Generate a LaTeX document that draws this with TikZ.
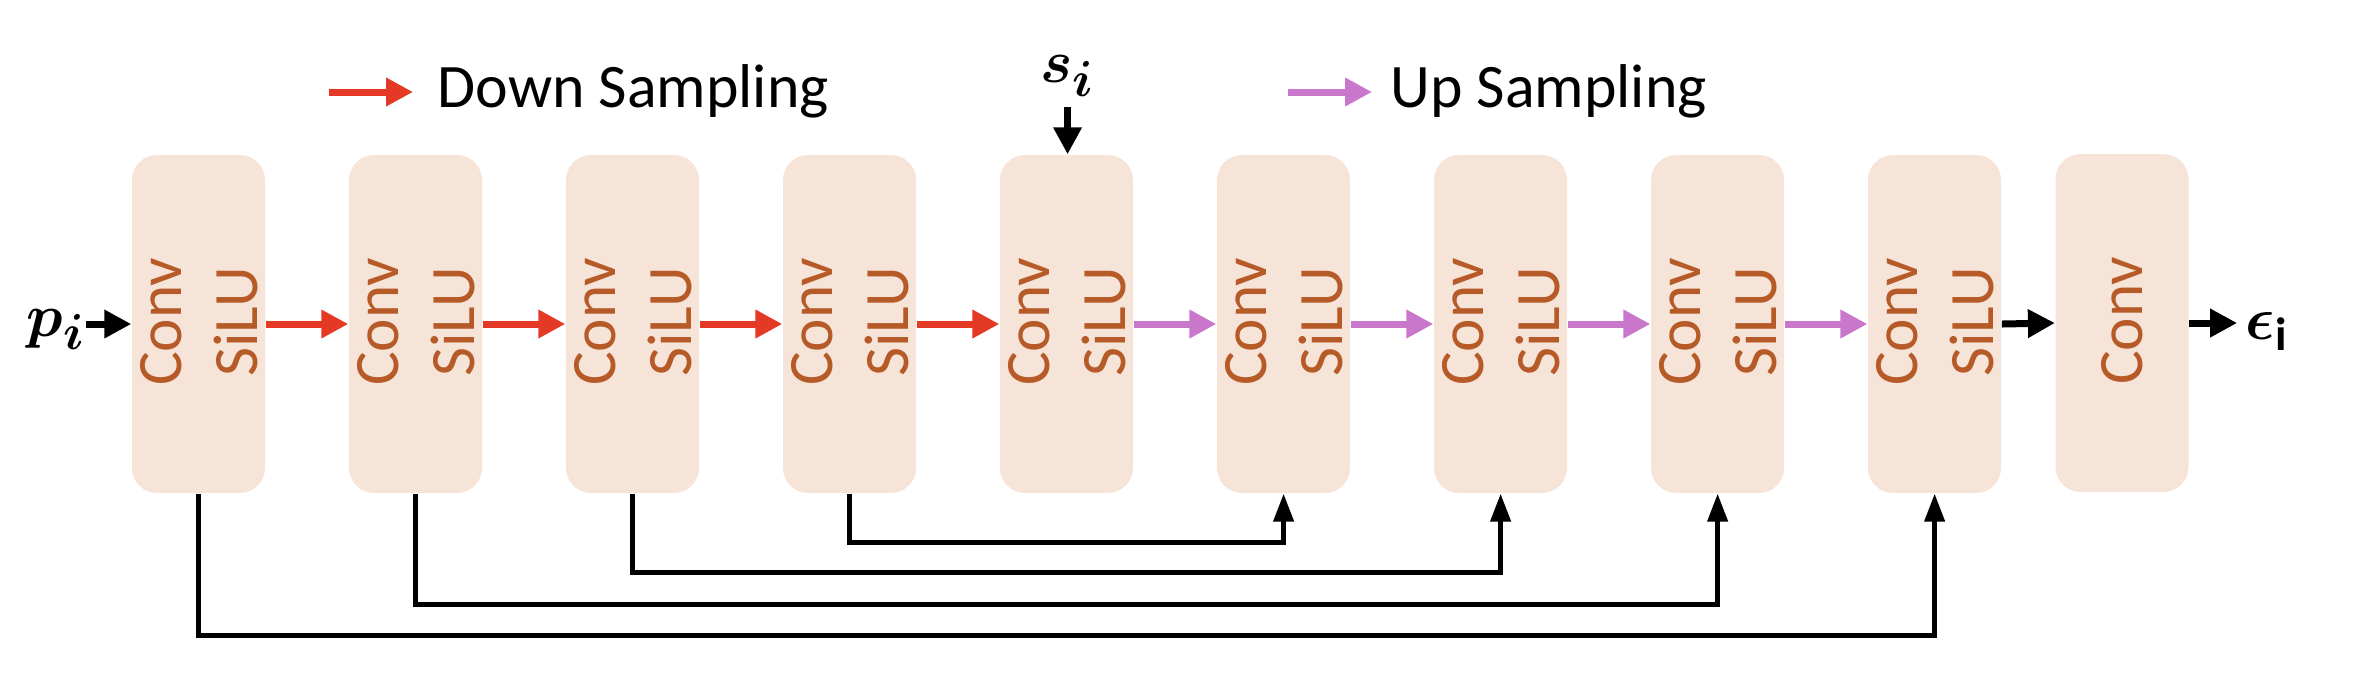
\documentclass[tikz,border=0pt]{standalone}
\usepackage{amsmath}
\usepackage{amssymb}
\usepackage{fontspec}
\setmainfont{Carlito}
\usepackage{xcolor}
\usepackage{tikz}
\usetikzlibrary{arrows.meta}

\definecolor{boxfill}{HTML}{F6E4D9}
\definecolor{convtext}{HTML}{B65A27}
\definecolor{downred}{HTML}{E43A25}
\definecolor{uppink}{HTML}{C977CA}

\begin{document}
\begin{tikzpicture}[scale=0.1]
\tikzstyle{every node}+=[inner sep=0pt]
\tikzstyle{block}=[fill=boxfill, rounded corners=0.25cm, minimum width=1.33cm, minimum height=3.38cm]
\tikzstyle{convlbl}=[text=convtext, rotate=90, font=\fontsize{18}{20}\selectfont]
\tikzstyle{legendtxt}=[font=\fontsize{17.6}{20}\selectfont]
\tikzstyle{mathlbl}=[font=\fontsize{19}{22}\selectfont]
\tikzstyle{flow}=[line width=0.07cm, -{Triangle[length=0.27cm,width=0.27cm]}]
\tikzstyle{skip}=[line width=0.045cm, -{Triangle[length=0.28cm,width=0.2cm]}]
\useasboundingbox (0,0) rectangle (237.6,-67.8);
% legend
\coordinate (dnstart) at (32.9,-9.2);
\node[legendtxt, anchor=base west] (dntxt) at (43.7,-10.8) {Down Sampling};
\draw [flow, downred, shorten >=0.24cm] (dnstart) -- (dnstart -| dntxt.west);
\coordinate (upstart) at (128.8,-9.2);
\node[legendtxt, anchor=base west] (uptxt) at (139,-10.8) {Up Sampling};
\draw [flow, uppink, shorten >=0.18cm] (upstart) -- (upstart -| uptxt.west);
% blocks
\node[block] (b1) at (19.85,-32.4) {};
\node[xshift=-0.37cm, yshift=0.02cm, convlbl] (c1) at (b1.center) {Conv};
\node[xshift=0.37cm, yshift=0.02cm, convlbl] (a1) at (b1.center) {SiLU};
\node[block] (b2) at (41.55,-32.4) {};
\node[xshift=-0.37cm, yshift=0.02cm, convlbl] (c2) at (b2.center) {Conv};
\node[xshift=0.37cm, yshift=0.02cm, convlbl] (a2) at (b2.center) {SiLU};
\node[block] (b3) at (63.25,-32.4) {};
\node[xshift=-0.37cm, yshift=0.02cm, convlbl] (c3) at (b3.center) {Conv};
\node[xshift=0.37cm, yshift=0.02cm, convlbl] (a3) at (b3.center) {SiLU};
\node[block] (b4) at (84.95,-32.4) {};
\node[xshift=-0.37cm, yshift=0.02cm, convlbl] (c4) at (b4.center) {Conv};
\node[xshift=0.37cm, yshift=0.02cm, convlbl] (a4) at (b4.center) {SiLU};
\node[block] (b5) at (106.65,-32.4) {};
\node[xshift=-0.37cm, yshift=0.02cm, convlbl] (c5) at (b5.center) {Conv};
\node[xshift=0.37cm, yshift=0.02cm, convlbl] (a5) at (b5.center) {SiLU};
\node[block] (b6) at (128.35,-32.4) {};
\node[xshift=-0.37cm, yshift=0.02cm, convlbl] (c6) at (b6.center) {Conv};
\node[xshift=0.37cm, yshift=0.02cm, convlbl] (a6) at (b6.center) {SiLU};
\node[block] (b7) at (150.05,-32.4) {};
\node[xshift=-0.37cm, yshift=0.02cm, convlbl] (c7) at (b7.center) {Conv};
\node[xshift=0.37cm, yshift=0.02cm, convlbl] (a7) at (b7.center) {SiLU};
\node[block] (b8) at (171.75,-32.4) {};
\node[xshift=-0.37cm, yshift=0.02cm, convlbl] (c8) at (b8.center) {Conv};
\node[xshift=0.37cm, yshift=0.02cm, convlbl] (a8) at (b8.center) {SiLU};
\node[block] (b9) at (193.45,-32.4) {};
\node[xshift=-0.37cm, yshift=0.02cm, convlbl] (c9) at (b9.center) {Conv};
\node[xshift=0.37cm, yshift=0.02cm, convlbl] (a9) at (b9.center) {SiLU};
\node[block] (b10) at (212.2,-32.3) {};
\node[yshift=0.02cm, convlbl] (c10) at (b10.center) {Conv};
% inputs and output
\node[mathlbl, anchor=base west] (pi) at (2.6,-33.6) {$\boldsymbol{p_i}$};
\draw [flow] (pi.east |- b1.west) -- (b1.west);
\node[mathlbl, anchor=base] (si) at (106.75,-8.3) {$\boldsymbol{s_i}$};
\draw [flow, shorten <=0.1cm] (si.south) -- (si.south |- b5.north);
\node[mathlbl, anchor=base west] (eps) at (224.5,-33.9) {$\boldsymbol{\epsilon}_{\mathbf{i}}$};
\draw [flow, shorten >=0.08cm] (b10.east) -- (eps.west |- b10.east);
% main path
\draw [flow, downred] (b1.east) -- (b2.west);
\draw [flow, downred] (b2.east) -- (b3.west);
\draw [flow, downred] (b3.east) -- (b4.west);
\draw [flow, downred] (b4.east) -- (b5.west);
\draw [flow, uppink] (b5.east) -- (b6.west);
\draw [flow, uppink] (b6.east) -- (b7.west);
\draw [flow, uppink] (b7.east) -- (b8.west);
\draw [flow, uppink] (b8.east) -- (b9.west);
\draw [flow] (b9.east) -- (b10.west);
% skip connections
\draw [skip] (b4.south) -- ++(0,-4.9) -| (b6.south);
\draw [skip] (b3.south) -- ++(0,-7.9) -| (b7.south);
\draw [skip] (b2.south) -- ++(0,-11.1) -| (b8.south);
\draw [skip] (b1.south) -- ++(0,-14.2) -| (b9.south);
\end{tikzpicture}
\end{document}
